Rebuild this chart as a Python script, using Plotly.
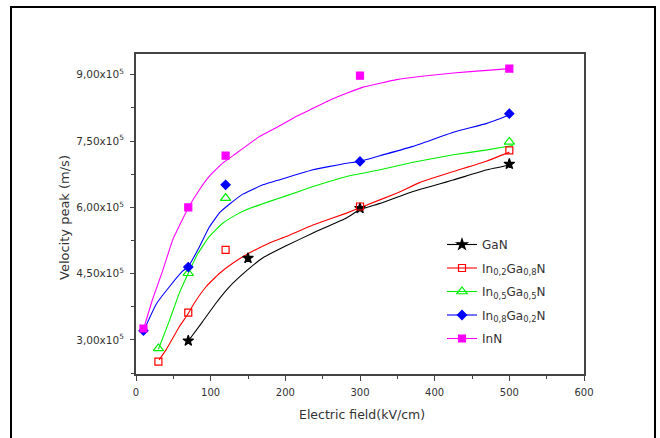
import plotly.graph_objects as go

# ---- data ----
series_names = ["GaN", "In<sub>0,2</sub>Ga<sub>0,8</sub>N", "In<sub>0,5</sub>Ga<sub>0,5</sub>N",
                "In<sub>0,8</sub>Ga<sub>0,2</sub>N", "InN"]

# measured points (E field kV/cm, velocity peak m/s)
gan_x = [70, 150, 300, 500]
gan_y = [2.98e5, 4.85e5, 5.98e5, 6.98e5]
in02_x = [30, 70, 120, 300, 500]
in02_y = [2.51e5, 3.62e5, 5.04e5, 6.02e5, 7.29e5]
in05_x = [30, 70, 120, 500]
in05_y = [2.81e5, 4.51e5, 6.21e5, 7.48e5]
in08_x = [10, 70, 120, 300, 500]
in08_y = [3.21e5, 4.65e5, 6.51e5, 7.04e5, 8.12e5]
inn_x = [10, 70, 120, 300, 500]
inn_y = [3.26e5, 6.0e5, 7.17e5, 8.98e5, 9.14e5]

# fitted curves
gan_cx = [71, 89, 107, 125, 147, 170, 201, 237, 282, 300, 327, 371, 425, 470, 500]
gan_cy = [3.0e5, 3.41e5, 3.83e5, 4.2e5, 4.55e5, 4.86e5, 5.13e5, 5.42e5, 5.76e5, 5.95e5,
          6.09e5, 6.36e5, 6.62e5, 6.85e5, 6.96e5]
in02_cx = [31, 40, 58, 70, 78, 94, 112, 130, 147, 178, 201, 237, 282, 304, 349, 380, 425, 470, 500]
in02_cy = [2.55e5, 2.77e5, 3.3e5, 3.6e5, 3.83e5, 4.21e5, 4.51e5, 4.74e5, 4.92e5, 5.19e5, 5.34e5,
           5.6e5, 5.87e5, 6.02e5, 6.32e5, 6.56e5, 6.81e5, 7.05e5, 7.25e5]
in05_cx = [30, 45, 58, 70, 83, 98, 116, 134, 147, 178, 201, 237, 282, 327, 371, 425, 470, 505]
in05_cy = [2.79e5, 3.45e5, 4.06e5, 4.51e5, 4.96e5, 5.34e5, 5.64e5, 5.83e5, 5.94e5, 6.13e5,
           6.26e5, 6.47e5, 6.7e5, 6.85e5, 7.02e5, 7.19e5, 7.3e5, 7.4e5]
in08_cx = [10, 27, 45, 62, 70, 85, 98, 112, 125, 143, 170, 201, 237, 282, 300, 327, 371, 425, 470, 500]
in08_cy = [3.2e5, 3.81e5, 4.21e5, 4.55e5, 4.66e5, 5.11e5, 5.55e5, 5.88e5, 6.07e5, 6.3e5,
           6.51e5, 6.67e5, 6.85e5, 7.0e5, 7.04e5, 7.17e5, 7.38e5, 7.7e5, 7.9e5, 8.09e5]
inn_cx = [10, 22, 36, 49, 62, 71, 85, 98, 116, 134, 147, 165, 193, 215, 237, 260, 282, 304, 327,
          349, 380, 425, 470, 500]
inn_cy = [3.24e5, 3.91e5, 4.58e5, 5.26e5, 5.72e5, 6.02e5, 6.4e5, 6.7e5, 7.0e5, 7.22e5, 7.38e5,
          7.6e5, 7.85e5, 8.06e5, 8.24e5, 8.43e5, 8.58e5, 8.72e5, 8.81e5, 8.89e5, 8.96e5, 9.04e5,
          9.1e5, 9.14e5]

y_tickvals = [3.0e5, 4.5e5, 6.0e5, 7.5e5, 9.0e5]
y_ticktext = ["3,00x10<sup>5</sup>", "4,50x10<sup>5</sup>", "6,00x10<sup>5</sup>",
              "7,50x10<sup>5</sup>", "9,00x10<sup>5</sup>"]
x_tickvals = [0, 100, 200, 300, 400, 500, 600]

colors = ["#000000", "#ff0000", "#00ee00", "#0000ff", "#ff00ff"]
symbols = ["star", "square-open", "triangle-up-open", "diamond", "square"]
msizes = [8, 7, 9, 7, 7]

pts = [(gan_x, gan_y), (in02_x, in02_y), (in05_x, in05_y), (in08_x, in08_y), (inn_x, inn_y)]
curves = [(gan_cx, gan_cy), (in02_cx, in02_cy), (in05_cx, in05_cy), (in08_cx, in08_cy), (inn_cx, inn_cy)]

fig = go.Figure()
for i in range(5):
    cx, cy = curves[i]
    fig.add_trace(go.Scatter(x=cx, y=cy, mode="lines", line=dict(color=colors[i], width=1.1, shape="spline", smoothing=0.3),
                             showlegend=False, hoverinfo="skip"))
for i in range(5):
    px_, py_ = pts[i]
    fig.add_trace(go.Scatter(x=px_, y=py_, mode="markers",
                             marker=dict(symbol=symbols[i], size=msizes[i], color=colors[i],
                                         line=dict(color=colors[i], width=1.2)),
                             showlegend=False))
for i in range(5):
    fig.add_trace(go.Scatter(x=[None], y=[None], mode="lines+markers", name=series_names[i],
                             legendgroup="g%d" % i,
                             line=dict(color=colors[i], width=1.1),
                             marker=dict(symbol=symbols[i], size=msizes[i], color=colors[i],
                                         line=dict(color=colors[i], width=1.2))))

font_family = "DejaVu Sans, Verdana, sans-serif"

fig.update_layout(
    width=660, height=438,
    margin=dict(l=136, r=76, t=54, b=64),
    paper_bgcolor="white", plot_bgcolor="white",
    font=dict(family=font_family, color="#333333", size=10),
    xaxis=dict(range=[0, 600], tickvals=x_tickvals, ticks="outside", ticklen=5, tickwidth=1,
               tickcolor="#444", showline=True, linecolor="#444", linewidth=2, mirror=True,
               showgrid=False, zeroline=False, tickfont=dict(size=10, color="#333"),
               ticklabelstandoff=3,
               minor=dict(ticks="outside", ticklen=3, dtick=50, tick0=0, tickcolor="#444", showgrid=False)),
    yaxis=dict(range=[2.23e5, 9.47e5], tickvals=y_tickvals, ticktext=y_ticktext, ticks="outside",
               ticklen=4, tickwidth=1, tickcolor="#444", showline=True, linecolor="#444", linewidth=2,
               mirror=True, showgrid=False, zeroline=False, tickfont=dict(size=10.5, color="#333"),
               ticklabelstandoff=4,
               minor=dict(ticks="outside", ticklen=3, dtick=0.75e5, tick0=3.0e5, tickcolor="#444", showgrid=False)),
    legend=dict(x=(442 - 136) / 448, y=0.45, xanchor="left", yanchor="top", bgcolor="rgba(0,0,0,0)",
                font=dict(size=12, color="#333"), tracegroupgap=4.5, itemwidth=30),
    shapes=[dict(type="rect", xref="paper", yref="paper", x0=-0.279, x1=1.1585, y0=-0.25, y1=1.147,
                 line=dict(color="#000", width=2), fillcolor="rgba(0,0,0,0)", layer="below")],
    annotations=[
        dict(text="Electric field(kV/cm)", xref="paper", yref="paper", x=(362 - 136) / 448,
             y=(374 - 414) / 320, showarrow=False, font=dict(size=12.5, color="#333"),
             xanchor="center", yanchor="middle"),
        dict(text="Velocity peak (m/s)", xref="paper", yref="paper", x=(64 - 136) / 448,
             y=(374 - 218) / 320, showarrow=False, textangle=-90, font=dict(size=13, color="#333"),
             xanchor="center", yanchor="middle"),
    ],
)

fig.write_html("out.html")
